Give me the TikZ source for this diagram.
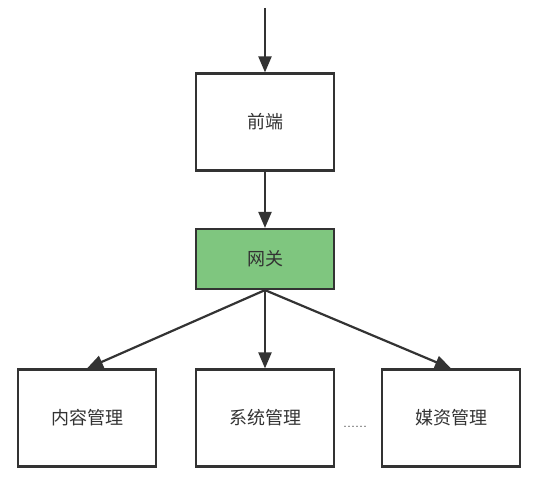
\documentclass[tikz,border=0pt]{standalone}
\usepackage{fontspec}
\newfontfamily\cjk{Noto Sans CJK SC}
\usetikzlibrary{arrows.meta}
\definecolor{linie}{RGB}{51,51,51}
\definecolor{gruen}{RGB}{127,198,127}
\begin{document}
\begin{tikzpicture}[x=1pt, y=-1pt,
        kasten/.style={draw=linie, line width=2.2pt, minimum width=138pt, minimum height=97pt, inner sep=0pt, font=\cjk\fontsize{18}{20}\selectfont, text=linie},
        pfeil/.style={draw=linie, line width=2.2pt, -{Triangle[length=16pt, width=13pt]}}]
        \useasboundingbox (0,0) rectangle (533,486);
        \coordinate (eingang) at (265, 8);
        \node (vorne) at (265, 122) [kasten] {前端};
        \node (tor) at (265, 259) [kasten, fill=gruen, minimum height=60pt] {网关};

        \foreach \x/\name/\text in {87/inhalt/内容管理, 265/system/系统管理, 451/medien/媒资管理}
            \node (\name) at (\x, 418) [kasten] {\text};

        \node (punkte) at (343, 427) [anchor=base west, inner sep=0pt, font=\fontsize{16}{18}\selectfont, text=linie] {......};

        \draw[pfeil] (eingang) -- (vorne.north);
        \draw[pfeil] (vorne.south) -- (tor.north);
        \draw[pfeil] (tor.south) -- (inhalt.north);
        \draw[pfeil] (tor.south) -- (system.north);
        \draw[pfeil] (tor.south) -- (medien.north);
    \end{tikzpicture}
\end{document}
